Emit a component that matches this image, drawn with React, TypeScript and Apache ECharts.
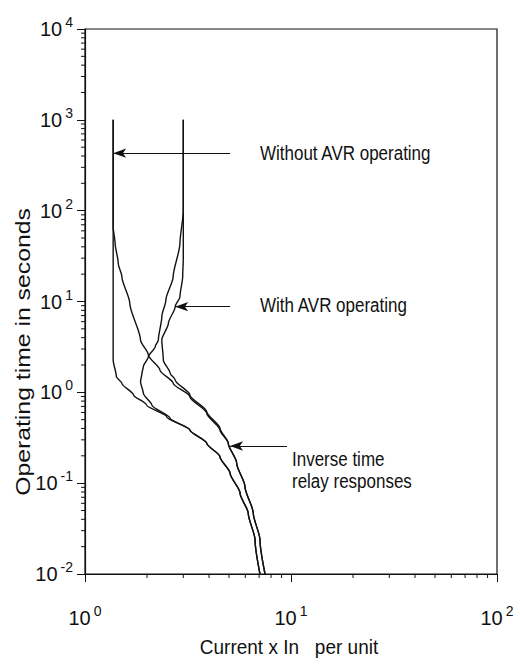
import React, { useEffect, useRef } from "react";
import * as echarts from "echarts";

// Axis extents / major tick values
const xMajorTicks = [1, 10, 100];
const yMajorTicks = [0.01, 0.1, 1, 10, 100, 1000, 10000];

// Relay response curves: [current x In (p.u.), operating time (s)]
const curveLeftLower: [number, number][] = [
  [1.37, 1000], [1.37, 100], [1.37, 10], [1.37, 2.27], [1.42, 1.49], [1.51, 1.26],
  [1.72, 0.936], [1.99, 0.726], [2.49, 0.54], [3.23, 0.385], [3.9, 0.275],
  [4.52, 0.195], [5.06, 0.129], [5.66, 0.0773], [6.2, 0.0466], [6.69, 0.0237], [7.07, 0.01],
];
const curveLeftUpper: [number, number][] = [
  [1.37, 1000], [1.37, 66.7], [1.4, 43.7], [1.45, 26.4], [1.51, 18.8], [1.65, 9.55],
  [1.86, 3.77], [2.03, 2.58], [2.31, 1.76], [2.68, 1.26], [3.23, 0.896], [3.9, 0.587],
  [4.52, 0.385], [4.96, 0.275], [5.45, 0.166], [5.98, 0.0914], [6.56, 0.0466],
  [7.07, 0.0237], [7.48, 0.01],
];
const curveRightLower: [number, number][] = [
  [3.0, 1000], [3.0, 100], [2.89, 43.7], [2.68, 18.8], [2.47, 10.4], [2.36, 6.81],
  [2.27, 3.77], [2.19, 3.18], [2.03, 2.47], [1.92, 1.92], [1.89, 1.62], [1.86, 1.31],
  [1.92, 0.975], [2.11, 0.726], [2.59, 0.518], [3.23, 0.385], [3.9, 0.275],
  [4.52, 0.195], [5.06, 0.129], [5.66, 0.0773], [6.2, 0.0466], [6.69, 0.0237], [7.07, 0.01],
];
const curveRightUpper: [number, number][] = [
  [3.0, 1000], [3.0, 100], [3.0, 30], [2.98, 18.8], [2.89, 11.3], [2.74, 8.77],
  [2.54, 5.75], [2.36, 3.77], [2.4, 2.27], [2.59, 1.62], [2.74, 1.37], [3.23, 0.936],
  [3.9, 0.612], [4.52, 0.402], [4.96, 0.275], [5.45, 0.166], [5.98, 0.0914],
  [6.56, 0.0466], [7.07, 0.0237], [7.48, 0.01],
];

// Annotation arrows: [from, to]
const arrowWithout: [number, number][] = [[5.06, 430], [1.37, 430]];
const arrowWith: [number, number][] = [[5.06, 8.77], [2.74, 8.77]];
const arrowInverse: [number, number][] = [[9.56, 0.2565], [5.06, 0.2565]];

const annotationTexts = ["Without AVR operating", "With AVR operating", "Inverse time", "relay responses"];
const xTitle = "Current x In   per unit";
const yTitle = "Operating time in seconds";

const FONT = "'Liberation Sans', Arial, Helvetica, sans-serif";

function logMinor(min: number, max: number): number[] {
  const out: number[] = [];
  for (let d = min; d < max; d *= 10) {
    for (let k = 2; k <= 9; k++) out.push(+(k * d).toPrecision(6));
  }
  return out;
}

export default function App() {
  const ref = useRef<HTMLDivElement>(null);
  useEffect(() => {
    if (!ref.current) return;
    const chart = echarts.init(ref.current, undefined, { renderer: "svg" });
    const xMin = xMajorTicks[0];
    const xMax = xMajorTicks[xMajorTicks.length - 1];
    const yMin = yMajorTicks[0];
    const yMax = yMajorTicks[yMajorTicks.length - 1];
    const xMinor = logMinor(xMin, xMax);
    const yMinor = logMinor(yMin, yMax);

    const labelFormatter = (v: number) => {
      const e = Math.round(Math.log10(v));
      return `{b|10}{s|${e}}`;
    };
    const rich = {
      b: { fontSize: 20, fontFamily: FONT, color: "#111", lineHeight: 24 },
      s: { fontSize: 14, fontFamily: FONT, color: "#111", padding: [0, 0, 14, 3], lineHeight: 24 },
    };

    const lineStyle = { color: "#111", width: 1.4 };
    const curveSeries = [curveLeftLower, curveLeftUpper, curveRightLower, curveRightUpper].map((d) => ({
      type: "line",
      data: d,
      showSymbol: false,
      symbol: "none",
      smooth: 0.25,
      smoothMonotone: "y",
      lineStyle,
      silent: true,
      z: 3,
    }));

    const arrowSeries = {
      type: "line",
      data: [],
      silent: true,
      markLine: {
        silent: true,
        symbol: ["none", "arrow"],
        symbolSize: [7, 13],
        label: { show: false },
        lineStyle: { color: "#111", width: 1.2, type: "solid" },
        data: [arrowWithout, arrowWith, arrowInverse].map((a) => [
          { coord: a[0] },
          { coord: a[1] },
        ]),
      },
    };

    const tickSeries = (vals: number[], axis: "x" | "y", len: number) => ({
      type: "custom",
      silent: true,
      clip: false,
      data: vals.map((v) => (axis === "x" ? [v, yMin] : [xMin, v])),
      encode: { x: 0, y: 1 },
      renderItem: (_p: any, api: any) => {
        const p = api.coord([api.value(0), api.value(1)]);
        const shape =
          axis === "x"
            ? { x1: p[0], y1: p[1], x2: p[0], y2: p[1] + len }
            : { x1: p[0], y1: p[1], x2: p[0] - len, y2: p[1] };
        return { type: "line", shape, style: { stroke: "#111", lineWidth: 1 } };
      },
    });

    const txt = (text: string, x: number, y: number, size: number, extra: any = {}) => ({
      type: "text",
      x,
      y,
      scaleY: 1.15,
      ...extra,
      style: { text, font: `${size}px ${FONT}`, fill: "#111", textVerticalAlign: "middle", ...(extra.style || {}) },
    });

    chart.setOption({
      animation: false,
      backgroundColor: "#fff",
      grid: { left: 85, right: 23, top: 29, bottom: 92, show: true, borderColor: "#111", borderWidth: 1.2 },
      xAxis: {
        type: "log",
        logBase: 10,
        min: xMin,
        max: xMax,
        splitLine: { show: false },
        axisLine: { show: true, lineStyle: { color: "#111", width: 1.2 } },
        axisTick: { show: true, inside: false, length: 8, lineStyle: { color: "#111" } },
        minorTick: { show: false },
        axisLabel: { formatter: labelFormatter, rich, margin: 32 },
      },
      yAxis: {
        type: "log",
        logBase: 10,
        min: yMin,
        max: yMax,
        splitLine: { show: false },
        axisLine: { show: true, lineStyle: { color: "#111", width: 1.2 } },
        axisTick: { show: true, inside: false, length: 8, lineStyle: { color: "#111" } },
        minorTick: { show: false },
        axisLabel: { formatter: labelFormatter, rich, margin: 12 },
      },
      series: [
        ...curveSeries,
        arrowSeries,
        tickSeries(xMinor, "x", 4),
        tickSeries(yMinor, "y", 4),
      ],
      graphic: [
        txt(annotationTexts[0], 260, 153, 17),
        txt(annotationTexts[1], 260, 305, 17),
        txt(annotationTexts[2], 292, 459, 17),
        txt(annotationTexts[3], 292, 481, 17),
        txt(xTitle, 289, 647, 19, { scaleY: 1.1, style: { textAlign: "center" } }),
        {
          type: "text",
          x: 23,
          y: 352,
          rotation: Math.PI / 2,
          scaleX: 1.18,
          style: { text: yTitle, font: `21px ${FONT}`, fill: "#111", textAlign: "center", textVerticalAlign: "middle" },
        },
      ],
    });
    return () => chart.dispose();
  }, []);
  return <div ref={ref} style={{ width: 520, height: 666, position: "absolute", left: 0, top: 0 }} />;
}
